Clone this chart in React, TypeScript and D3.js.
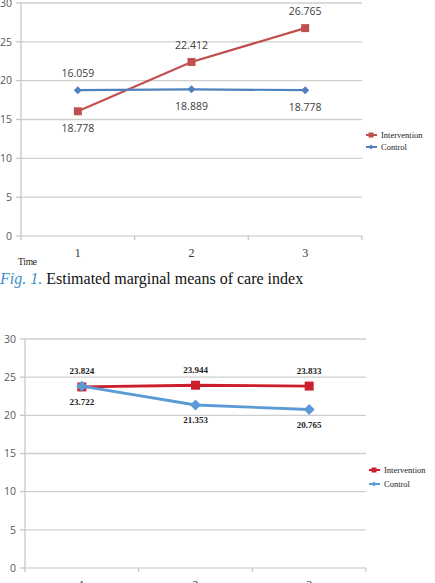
import React, { useEffect, useRef } from 'react';
import * as d3 from 'd3';

const times = ['1', '2', '3'];
const yTicks = [0, 5, 10, 15, 20, 25, 30];
const seriesNames = ['Intervention', 'Control'];

// Fig. 1 – care index
const careIntervention = [16.059, 22.412, 26.765];
const careControl = [18.778, 18.889, 18.778];

// lower panel
const lowerIntervention = [23.722, 23.944, 23.833];
const lowerControl = [23.824, 21.353, 20.765];

// side of the point pair where each value label sits
const careInterventionSide = ['up', 'up', 'up'];
const careControlSide = ['down', 'down', 'down'];
const lowerInterventionSide = ['down', 'up', 'up'];
const lowerControlSide = ['up', 'down', 'down'];

const SERIF = "'Liberation Serif', 'Times New Roman', 'DejaVu Serif', serif";
const SANS = "'Open Sans', sans-serif";

type Series = { name: string; values: number[]; sides: string[]; color: string; marker: 'square' | 'diamond'; size: number };

type PanelOpts = {
  top: number; zero: number; left: number; right: number;
  series: Series[];
  lineWidth: number;
  labelFont: string; labelSize: number; labelWeight: string; labelColor: string;
  upOffset: number; downOffset: number;
  legendX: number; legendY: number; legendGap: number;
  showTime: boolean;
};

function markerPath(kind: 'square' | 'diamond', size: number) {
  const h = size / 2;
  if (kind === 'square') return `M${-h},${-h}H${h}V${h}H${-h}Z`;
  return `M0,${-h}L${h},0L0,${h}L${-h},0Z`;
}

function drawPanel(svg: d3.Selection<SVGSVGElement, unknown, null, undefined>, o: PanelOpts) {
  const g = svg.append('g');
  const y = d3.scaleLinear().domain([0, 30]).range([o.zero, o.top]);
  const x = d3.scaleBand().domain(times).range([o.left, o.right]).padding(0);
  const cx = (t: string) => (x(t) as number) + x.bandwidth() / 2;

  // horizontal gridlines
  g.selectAll('.grid').data(yTicks.filter(d => d > 0)).join('line')
    .attr('x1', o.left).attr('x2', o.right)
    .attr('y1', d => y(d)).attr('y2', d => y(d))
    .attr('stroke', '#cfcfcf').attr('stroke-width', 1.3);

  // y axis with outside ticks
  g.append('line').attr('x1', o.left).attr('x2', o.left).attr('y1', y(30)).attr('y2', o.zero)
    .attr('stroke', '#c4c4c4').attr('stroke-width', 1.2);
  g.selectAll('.ytick').data(yTicks).join('line')
    .attr('x1', o.left - 5).attr('x2', o.left)
    .attr('y1', d => y(d)).attr('y2', d => y(d))
    .attr('stroke', '#c4c4c4').attr('stroke-width', 1.2);
  g.selectAll('.ylab').data(yTicks).join('text')
    .attr('x', o.left - 9).attr('y', d => y(d)).attr('dy', '0.35em')
    .attr('text-anchor', 'end').attr('font-family', SANS)
    .attr('font-size', 10.5).attr('fill', '#595959').text(d => d);

  // x axis
  g.append('line').attr('x1', o.left).attr('x2', o.right).attr('y1', o.zero).attr('y2', o.zero)
    .attr('stroke', '#c4c4c4').attr('stroke-width', 1.2);
  const bounds = times.map(t => (x(t) as number) + x.bandwidth()).concat([o.left]);
  g.selectAll('.xtick').data(bounds).join('line')
    .attr('x1', d => d).attr('x2', d => d).attr('y1', o.zero).attr('y2', o.zero + 4)
    .attr('stroke', '#c4c4c4').attr('stroke-width', 1.2);
  g.selectAll('.xlab').data(times).join('text')
    .attr('x', d => cx(d)).attr('y', o.zero + 21).attr('text-anchor', 'middle')
    .attr('font-family', SERIF).attr('font-size', 12).attr('fill', '#333')
    .text(d => d);
  if (o.showTime) {
    g.append('text').attr('x', o.left - 3).attr('y', o.zero + 29)
      .attr('font-family', SERIF).attr('font-size', 9.5)
      .attr('fill', '#222').attr('textLength', 19).text('Time');
  }

  // lines and markers
  const line = d3.line<number>().x((d, i) => cx(times[i])).y(d => y(d));
  o.series.forEach(s => {
    g.append('path').attr('d', line(s.values)).attr('fill', 'none')
      .attr('stroke', s.color).attr('stroke-width', o.lineWidth);
  });
  o.series.forEach(s => {
    g.selectAll(null).data(s.values).join('path')
      .attr('transform', (d, i) => `translate(${cx(times[i])},${y(d)})`)
      .attr('d', markerPath(s.marker, s.size)).attr('fill', s.color);
  });

  // value labels above the higher point or below the lower point
  o.series.forEach(s => {
    g.selectAll(null).data(s.values).join('text')
      .attr('x', (d, i) => cx(times[i]))
      .attr('y', (d, i) => {
        const vals = o.series.map(t => t.values[i]);
        return s.sides[i] === 'up'
          ? y(d3.max(vals) as number) - o.upOffset
          : y(d3.min(vals) as number) + o.downOffset;
      })
      .attr('dy', '0.35em').attr('text-anchor', 'middle')
      .attr('font-family', o.labelFont).attr('font-size', o.labelSize)
      .attr('font-weight', o.labelWeight).attr('fill', o.labelColor)
      .text(d => d.toFixed(3));
  });

  // legend
  o.series.forEach((s, i) => {
    const ly = o.legendY + i * o.legendGap;
    g.append('line').attr('x1', o.legendX - 5).attr('x2', o.legendX + 6).attr('y1', ly).attr('y2', ly)
      .attr('stroke', s.color).attr('stroke-width', 2);
    g.append('path').attr('transform', `translate(${o.legendX},${ly})`)
      .attr('d', markerPath(s.marker, 5)).attr('fill', s.color);
    g.append('text').attr('x', o.legendX + 10).attr('y', ly).attr('dy', '0.35em')
      .attr('font-family', SERIF).attr('font-size', 8.5)
      .attr('fill', '#222').text(s.name);
  });
}

export default function App() {
  const svgRef = useRef<SVGSVGElement>(null);

  useEffect(() => {
    const svg = d3.select(svgRef.current as SVGSVGElement);
    svg.selectAll('*').remove();

    drawPanel(svg, {
      top: 3, zero: 236, left: 21, right: 362,
      series: [
        { name: seriesNames[0], values: careIntervention, sides: careInterventionSide, color: '#c0504d', marker: 'square', size: 8 },
        { name: seriesNames[1], values: careControl, sides: careControlSide, color: '#4f81bd', marker: 'diamond', size: 8 },
      ],
      lineWidth: 2.2,
      labelFont: SANS, labelSize: 10.5, labelWeight: 'normal', labelColor: '#404040',
      upOffset: 17, downOffset: 17,
      legendX: 371, legendY: 135, legendGap: 12,
      showTime: true,
    });

    // caption
    const cap = svg.append('text').attr('x', 0).attr('y', 284)
      .attr('font-family', SERIF).attr('font-size', 16);
    cap.append('tspan').attr('font-style', 'italic').attr('fill', '#3d8fc4').text('Fig. 1.');
    cap.append('tspan').attr('fill', '#111').text(' Estimated marginal means of care index');

    drawPanel(svg, {
      top: 339, zero: 568, left: 25, right: 366,
      series: [
        { name: seriesNames[0], values: lowerIntervention, sides: lowerInterventionSide, color: '#cc1f2d', marker: 'square', size: 9 },
        { name: seriesNames[1], values: lowerControl, sides: lowerControlSide, color: '#5b9bd5', marker: 'diamond', size: 11 },
      ],
      lineWidth: 2.8,
      labelFont: SERIF, labelSize: 9, labelWeight: 'bold', labelColor: '#222',
      upOffset: 15, downOffset: 15,
      legendX: 374, legendY: 470, legendGap: 14,
      showTime: false,
    });
  }, []);

  return (
    <div style={{ position: 'absolute', left: 0, top: 0, width: 435, height: 583, overflow: 'hidden', background: '#fff' }}>
      <svg ref={svgRef} width={435} height={583} style={{ display: 'block' }} />
    </div>
  );
}
